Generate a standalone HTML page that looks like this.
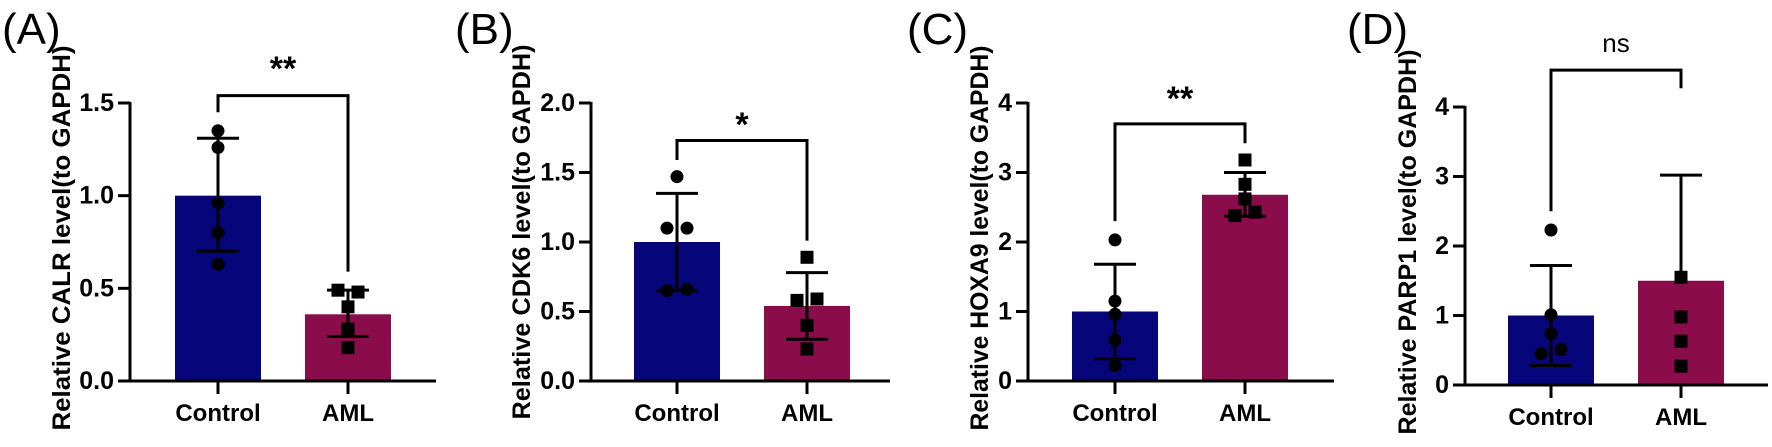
<!DOCTYPE html>
<html><head><meta charset="utf-8"><style>
html,body{margin:0;padding:0;background:#fff;width:1772px;height:447px;overflow:hidden}
svg text{font-family:"Liberation Sans",Arial,sans-serif}
</style></head><body>
<svg id="fig" width="1772" height="447" viewBox="0 0 1772 447" xmlns="http://www.w3.org/2000/svg"></svg>
<script>
// ---- data ----
const categories = ["Control","AML"];
const panelLetters = ["(A)","(B)","(C)","(D)"];
const yTitles = ["Relative CALR level(to GAPDH)","Relative CDK6 level(to GAPDH)","Relative HOXA9 level(to GAPDH)","Relative PARP1 level(to GAPDH)"];
const yMax = [1.5, 2.0, 4, 4];
const yTicksA = ["0.0","0.5","1.0","1.5"];
const yTicksB = ["0.0","0.5","1.0","1.5","2.0"];
const yTicksC = ["0","1","2","3","4"];
const yTicksD = ["0","1","2","3","4"];
const meansA = [1.0, 0.36];
const meansB = [1.0, 0.54];
const meansC = [1.0, 2.68];
const meansD = [1.0, 1.5];
const errHiA = [1.31, 0.49], errLoA = [0.70, 0.24];
const errHiB = [1.35, 0.78], errLoB = [0.65, 0.30];
const errHiC = [1.68, 3.00], errLoC = [0.32, 2.37];
const errHiD = [1.72, 3.02], errLoD = [0.28, 1.5];
const ptsCtrlA = [1.35,1.26,0.96,0.80,0.63], ptsAmlA = [0.49,0.48,0.40,0.28,0.18];
const ptsCtrlB = [1.47,1.10,1.10,0.65,0.66], ptsAmlB = [0.89,0.58,0.59,0.40,0.23];
const ptsCtrlC = [2.03,1.15,0.96,0.59,0.22], ptsAmlC = [3.18,2.83,2.62,2.43,2.38];
const ptsCtrlD = [2.23,1.01,0.74,0.51,0.45], ptsAmlD = [1.55,0.98,0.63,0.27];
const jitterCtrlA=[0,0,0,0,0], jitterAmlA=[-10,10,0,0,0];
const jitterCtrlB=[0,-10,10,-10,10], jitterAmlB=[0,-10,10,0,0];
const jitterCtrlC=[0,0,0,0,0], jitterAmlC=[0,0,0,10,-10];
const jitterCtrlD=[0,0,0,10,-10], jitterAmlD=[0,0,0,0];
const sigLabels = ["**","*","**","ns"];
const bracketTop = [1.54, 1.73, 3.7, 4.53];
const bracketLeft = [1.45, 1.59, 2.3, 2.5];
const bracketRight = [0.59, 1.01, 3.42, 4.27];

// ---- layout ----
const layout = [
 {ax:130, top:103, zero:381, axEnd:436, c:[218,348], tx:62, tlen:385, lx:2, ly:44, sy:80},
 {ax:591, top:103, zero:381, axEnd:890, c:[677,807], tx:522, tlen:375, lx:455, ly:44, sy:136},
 {ax:1028, top:103, zero:381, axEnd:1334, c:[1115,1245], tx:980, tlen:385, lx:907, ly:44, sy:110},
 {ax:1465, top:107, zero:385, axEnd:1768, c:[1551,1681], tx:1408, tlen:385, lx:1347, ly:44, sy:52}
];
const ticks=[yTicksA,yTicksB,yTicksC,yTicksD];
const means=[meansA,meansB,meansC,meansD];
const eHi=[errHiA,errHiB,errHiC,errHiD], eLo=[errLoA,errLoB,errLoC,errLoD];
const pts=[[ptsCtrlA,ptsAmlA],[ptsCtrlB,ptsAmlB],[ptsCtrlC,ptsAmlC],[ptsCtrlD,ptsAmlD]];
const jit=[[jitterCtrlA,jitterAmlA],[jitterCtrlB,jitterAmlB],[jitterCtrlC,jitterAmlC],[jitterCtrlD,jitterAmlD]];
const colors=["#06067a","#8a0c4a"];
const NS="http://www.w3.org/2000/svg";
const svg=document.getElementById('fig');
function mk(tag,attrs,parent){const e=document.createElementNS(NS,tag);for(const k in attrs)e.setAttribute(k,attrs[k]);(parent||svg).appendChild(e);return e;}

for(let p=0;p<4;p++){
 const L=layout[p];
 const g=mk('g',{});
 
 
 const y=v=>L.zero-(v/yMax[p])*(L.zero-L.top);
 const lt=mk('text',{x:L.lx,y:L.ly,'font-size':44},g);lt.textContent=panelLetters[p];
 
 
 const cy=(L.zero+L.top)/2+(p===1?-10:-4);
 const yt=mk('text',{x:L.tx,y:cy,'font-size':25,'font-weight':'bold','text-anchor':'middle','dominant-baseline':'central',transform:`rotate(-90 ${L.tx} ${cy})`,textLength:L.tlen,lengthAdjust:'spacingAndGlyphs'},g);
 yt.textContent=yTitles[p];
 
 
 // bars
 for(let i=0;i<2;i++){
  const r=mk('rect',{x:L.c[i]-43,y:y(means[p][i]),width:86,height:L.zero-y(means[p][i]),fill:colors[i]},g);
  
  
 }
 // error bars
 for(let i=0;i<2;i++){
  const eg=mk('g',{stroke:'#000','stroke-width':3,fill:'none'},g);
  
  
  mk('line',{x1:L.c[i],x2:L.c[i],y1:y(eHi[p][i]),y2:y(eLo[p][i])},eg);
  mk('line',{x1:L.c[i]-21,x2:L.c[i]+21,y1:y(eHi[p][i]),y2:y(eHi[p][i])},eg);
  if(eLo[p][i]!==means[p][i]) mk('line',{x1:L.c[i]-21,x2:L.c[i]+21,y1:y(eLo[p][i]),y2:y(eLo[p][i])},eg);
 }
 // points
 pts[p][0].forEach((v,k)=>{const c=mk('circle',{cx:L.c[0]+jit[p][0][k],cy:y(v),r:6.5,fill:'#000'},g);
  
  });
 pts[p][1].forEach((v,k)=>{const s=mk('rect',{x:L.c[1]+jit[p][1][k]-6.5,y:y(v)-6.5,width:13,height:13,fill:'#000'},g);
  
  });
 // axes
 const ag=mk('g',{stroke:'#000','stroke-width':3,fill:'none'},g);
 
 
 mk('line',{x1:L.ax,x2:L.ax,y1:L.top-1,y2:L.zero},ag);
 mk('line',{x1:L.ax-12,x2:L.axEnd,y1:L.zero,y2:L.zero},ag);
 ticks[p].forEach((t,k)=>{
  const v=yMax[p]*k/(ticks[p].length-1);
  mk('line',{x1:L.ax-12,x2:L.ax,y1:y(v),y2:y(v)},ag);
  const tx=mk('text',{x:L.ax-16,y:y(v),'font-size':25,'font-weight':'bold','text-anchor':'end','dominant-baseline':'central'},g);
  tx.textContent=t;
  
  
 });
 for(let i=0;i<2;i++){
  mk('line',{x1:L.c[i],x2:L.c[i],y1:L.zero,y2:L.zero+13},ag);
  const xl=mk('text',{x:L.c[i],y:L.zero+40,'font-size':24,'font-weight':'bold','text-anchor':'middle'},g);
  xl.textContent=categories[i];
  
  
 }
 // bracket
 const bg=mk('polyline',{points:`${L.c[0]},${y(bracketLeft[p])} ${L.c[0]},${y(bracketTop[p])} ${L.c[1]},${y(bracketTop[p])} ${L.c[1]},${y(bracketRight[p])}`,stroke:'#000','stroke-width':3,fill:'none'},g);
 
 
 const st=mk('text',{x:(L.c[0]+L.c[1])/2,y:L.sy,'font-size':p===3?26:34,'font-weight':p===3?'normal':'bold','text-anchor':'middle'},g);
 st.textContent=sigLabels[p];
 
 
}
</script>
</body></html>
